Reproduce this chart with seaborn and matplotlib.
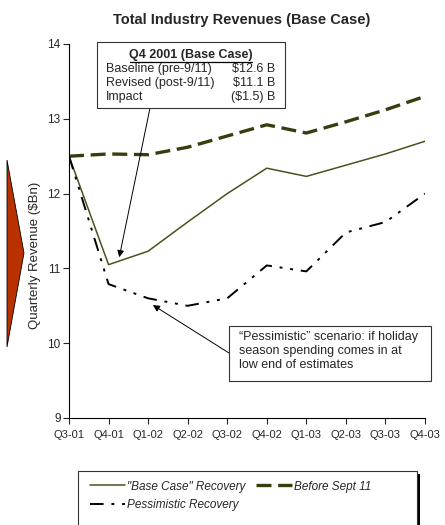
import pandas as pd
import matplotlib
matplotlib.use('Agg')
import matplotlib.pyplot as plt
import seaborn as sns
from matplotlib.patches import Rectangle, Polygon
from matplotlib.lines import Line2D

# 분기 라벨과 시리즈 값
quarters = ['Q3-01', 'Q4-01', 'Q1-02', 'Q2-02', 'Q3-02',
            'Q4-02', 'Q1-03', 'Q2-03', 'Q3-03', 'Q4-03']
base_case = [12.5, 11.05, 11.23, 11.62, 12.0, 12.34, 12.23, 12.38, 12.53, 12.7]
before_sept11 = [12.5, 12.53, 12.52, 12.62, 12.77, 12.92, 12.81, 12.96, 13.12, 13.3]
pessimistic = [12.5, 10.79, 10.6, 10.5, 10.6, 11.04, 10.96, 11.48, 11.62, 12.0]

df = pd.DataFrame({
    'x': list(range(len(quarters))),
    'base': base_case,
    'before': before_sept11,
    'pess': pessimistic,
})

sns.set_style('white')
plt.rcParams['font.family'] = ['Liberation Sans', 'DejaVu Sans']

fig = plt.figure(figsize=(4.45, 5.25), dpi=100)
ax = fig.add_axes([69 / 445, 1 - 418 / 525, 356 / 445, 374 / 525])

base_col = '#4f4f1e'
before_col = '#3b3b10'
pess_style = (0, (7, 4, 1.5, 4, 1.5, 4))
before_style = (0, (4.5, 2))

sns.lineplot(data=df, x='x', y='before', ax=ax, color=before_col, lw=2.4,
             linestyle=before_style)
sns.lineplot(data=df, x='x', y='base', ax=ax, color=base_col, lw=1.1)
sns.lineplot(data=df, x='x', y='pess', ax=ax, color='black', lw=1.4,
             linestyle=pess_style)

ax.set_xlim(0, len(quarters) - 1)
ax.set_ylim(9, 14)
ax.set_xticks(range(len(quarters)))
ax.set_xticklabels(quarters, fontsize=8)
ax.set_yticks([9, 10, 11, 12, 13, 14])
ax.tick_params(axis='y', labelsize=8.5, direction='out', length=4, width=0.8, left=True, pad=2)
ax.tick_params(axis='x', direction='out', length=4, width=0.8, bottom=True, pad=5)
ax.set_xlabel('')
ax.set_ylabel('Quarterly Revenue ($Bn)', fontsize=9.5)
ax.yaxis.set_label_coords(-0.08, 0.436)
for s in ['top', 'right']:
    ax.spines[s].set_visible(False)
for s in ['left', 'bottom']:
    ax.spines[s].set_color('black')
    ax.spines[s].set_linewidth(0.8)

fig.text(242 / 445, 1 - 20 / 525, 'Total Industry Revenues (Base Case)',
         ha='center', va='center', fontsize=10.5, fontweight='bold')

# 왼쪽 빨간 화살표 모양
fig.patches.append(Polygon([(7 / 445, 1 - 160 / 525), (24 / 445, 1 - 253 / 525),
                            (7 / 445, 1 - 347 / 525)], closed=True,
                           facecolor='#b83200', edgecolor='black', lw=0.6,
                           transform=fig.transFigure, figure=fig))

# 상자 1: Q4 2001 표
fig.patches.append(Rectangle((97 / 445, 1 - 108 / 525), 188 / 445, 66 / 525,
                             facecolor='white', edgecolor='#333333', lw=0.8,
                             transform=fig.transFigure, figure=fig, zorder=5))
fig.text(191 / 445, 1 - 55 / 525, 'Q4 2001 (Base Case)', ha='center', va='center',
         fontsize=9, fontweight='bold', zorder=6)
fig.add_artist(Line2D([130 / 445, 252 / 445], [1 - 62 / 525, 1 - 62 / 525],
                      color='black', lw=0.9, transform=fig.transFigure, zorder=6))
rows = [('Baseline (pre-9/11)', '$12.6 B'),
        ('Revised (post-9/11)', '$11.1 B'),
        ('Impact', '($1.5) B')]
for i, (lab, val) in enumerate(rows):
    yy = 1 - (69 + 14 * i) / 525
    fig.text(106 / 445, yy, lab, ha='left', va='center', fontsize=9, zorder=6)
    fig.text(275 / 445, yy, val, ha='right', va='center', fontsize=9, zorder=6)

ax.annotate('', xy=(1.27, 11.15), xycoords='data',
            xytext=(150 / 445, 1 - 108 / 525), textcoords='figure fraction',
            arrowprops=dict(arrowstyle='-|>', color='black', lw=0.7,
                            mutation_scale=10, shrinkA=0, shrinkB=0))

# 상자 2: 비관 시나리오 설명
fig.patches.append(Rectangle((229 / 445, 1 - 381 / 525), 202 / 445, 55 / 525,
                             facecolor='white', edgecolor='#333333', lw=0.8,
                             transform=fig.transFigure, figure=fig, zorder=5))
fig.text(239 / 445, 1 - 331 / 525,
         '\u201cPessimistic\u201d scenario: if holiday\nseason spending comes in at\nlow end of estimates',
         ha='left', va='top', fontsize=9, linespacing=1.2, zorder=6)
ax.annotate('', xy=(2.12, 10.51), xycoords='data',
            xytext=(229 / 445, 1 - 353 / 525), textcoords='figure fraction',
            arrowprops=dict(arrowstyle='-|>', color='black', lw=0.7,
                            mutation_scale=10, shrinkA=0, shrinkB=0))

# 범례 (검은 그림자 포함)
fig.patches.append(Rectangle((81 / 445, -0.05), 339 / 445, 0.05 + 1 - 474 / 525,
                             facecolor='black', edgecolor='none',
                             transform=fig.transFigure, figure=fig, zorder=1))
fig.patches.append(Rectangle((78 / 445, -0.05), 339 / 445, 0.05 + 1 - 471 / 525,
                             facecolor='white', edgecolor='#333333', lw=0.8,
                             transform=fig.transFigure, figure=fig, zorder=2))
handles = [Line2D([], [], color=base_col, lw=1.1),
           Line2D([], [], color='black', lw=1.4, linestyle=pess_style),
           Line2D([], [], color=before_col, lw=2.4, linestyle=before_style)]
labels = ['"Base Case" Recovery', 'Pessimistic Recovery', 'Before Sept 11']
leg = fig.legend(handles, labels, loc='upper left', ncol=2,
                 bbox_to_anchor=(79 / 445, 1 - 470 / 525), frameon=False,
                 prop={'size': 8.5, 'style': 'italic'}, handlelength=3.0,
                 handletextpad=0.2, columnspacing=0.9, labelspacing=0.55)
leg.set_zorder(3)

fig.savefig('out.png', dpi=100)
